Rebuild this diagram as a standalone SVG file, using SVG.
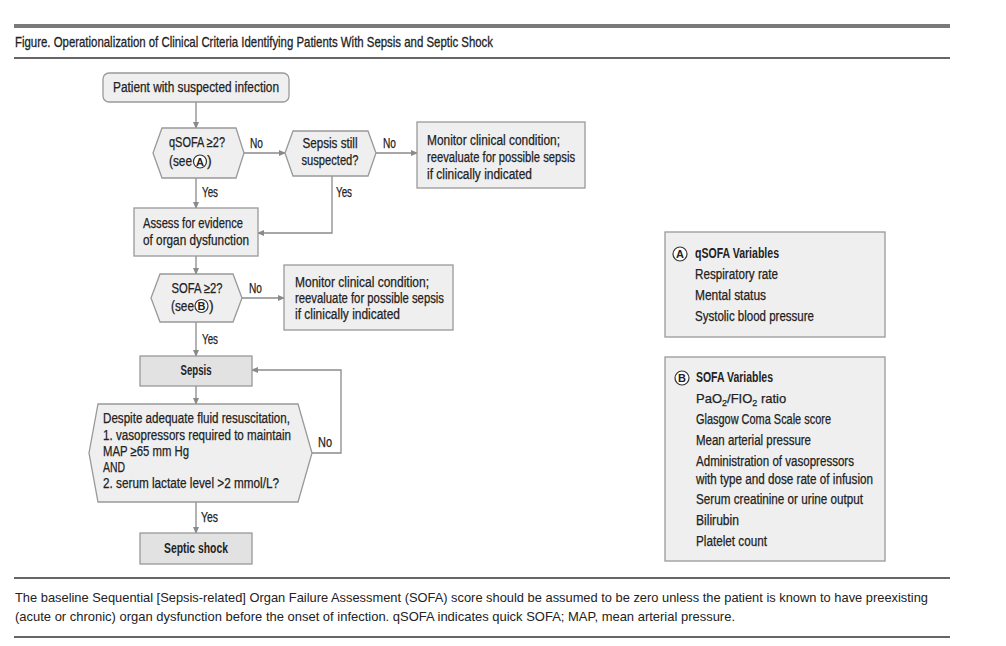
<svg xmlns="http://www.w3.org/2000/svg" width="1006" height="646" viewBox="0 0 1006 646">
<defs>
<marker id="ah" markerWidth="7" markerHeight="6" refX="6" refY="3" orient="auto" markerUnits="userSpaceOnUse">
<path d="M0,0 L7,3 L0,6 Z" fill="#8a8a8a"/>
</marker>
<style>
text{font-family:"Liberation Sans",Arial,sans-serif;fill:#222;}
.t{font-size:14px;stroke:#222;stroke-width:0.25;}
.b{font-size:14px;font-weight:bold;}
.c{text-anchor:middle;}
.box{fill:#efefef;stroke:#999;stroke-width:1.3;}
.dk{fill:#e2e2e2;stroke:#999;stroke-width:1.3;}
.con{fill:none;stroke:#8a8a8a;stroke-width:1.3;marker-end:url(#ah);}
.circ{fill:#fff;stroke:#333;stroke-width:1.2;}
.cl{font-size:11px;font-weight:bold;text-anchor:middle;}
.fn{font-size:13px;}
</style>
</defs>
<rect width="1006" height="646" fill="#fff"/>
<g id="header">
<rect x="14" y="24" width="936" height="4" fill="#7a7a7a"/>
<text x="15" y="47" style="font-size:15px;stroke:#222;stroke-width:0.3" textLength="478" lengthAdjust="spacingAndGlyphs">Figure. Operationalization of Clinical Criteria Identifying Patients With Sepsis and Septic Shock</text>
<line x1="14" y1="58" x2="950" y2="58" stroke="#333" stroke-width="1.5"/>
</g>
<g id="connectors">
<line class="con" x1="196" y1="102" x2="196" y2="128"/>
<line class="con" x1="244" y1="153" x2="285" y2="153"/>
<line class="con" x1="376" y1="153" x2="417" y2="153"/>
<line class="con" x1="196" y1="178" x2="196" y2="208"/>
<polyline class="con" points="332,176 332,233 258,233"/>
<line class="con" x1="196" y1="256" x2="196" y2="274"/>
<line class="con" x1="242" y1="298" x2="284" y2="298"/>
<line class="con" x1="196" y1="322" x2="196" y2="356"/>
<line class="con" x1="196" y1="386" x2="196" y2="404"/>
<polyline class="con" points="312,453 341,453 341,370 252,370"/>
<line class="con" x1="196" y1="502" x2="196" y2="533"/>
<text class="t" x="250" y="148" textLength="13" lengthAdjust="spacingAndGlyphs">No</text>
<text class="t" x="383" y="148" textLength="13" lengthAdjust="spacingAndGlyphs">No</text>
<text class="t" x="202" y="197" textLength="16" lengthAdjust="spacingAndGlyphs">Yes</text>
<text class="t" x="336" y="197" textLength="16" lengthAdjust="spacingAndGlyphs">Yes</text>
<text class="t" x="249" y="293" textLength="13" lengthAdjust="spacingAndGlyphs">No</text>
<text class="t" x="202" y="344" textLength="16" lengthAdjust="spacingAndGlyphs">Yes</text>
<text class="t" x="318" y="447" textLength="14" lengthAdjust="spacingAndGlyphs">No</text>
<text class="t" x="201" y="522" textLength="17" lengthAdjust="spacingAndGlyphs">Yes</text>
</g>
<g id="start">
<rect class="box" x="103" y="73" width="186" height="29" rx="6"/>
<text class="t c" x="196" y="92" textLength="166" lengthAdjust="spacingAndGlyphs">Patient with suspected infection</text>
</g>
<g id="qsofa">
<polygon class="box" points="153,153 162,128 236,128 244,153 236,178 162,178"/>
<text class="t c" x="197" y="147" textLength="56" lengthAdjust="spacingAndGlyphs">qSOFA ≥2?</text>
<text class="t" x="169" y="166" textLength="23" lengthAdjust="spacingAndGlyphs">(see</text>
<circle class="circ" cx="200" cy="161.5" r="6.5"/>
<text class="cl" x="200" y="165.5">A</text>
<text class="t" x="207" y="166">)</text>
</g>
<g id="still">
<polygon class="box" points="285,153 293,131 368,131 376,153 368,176 293,176"/>
<text class="t c" x="330" y="148" textLength="55" lengthAdjust="spacingAndGlyphs">Sepsis still</text>
<text class="t c" x="330" y="165" textLength="57" lengthAdjust="spacingAndGlyphs">suspected?</text>
</g>
<g id="monitor1">
<rect class="box" x="417" y="122" width="168" height="66"/>
<text class="t" x="427" y="145" textLength="133" lengthAdjust="spacingAndGlyphs">Monitor clinical condition;</text>
<text class="t" x="427" y="162" textLength="148" lengthAdjust="spacingAndGlyphs">reevaluate for possible sepsis</text>
<text class="t" x="427" y="179" textLength="105" lengthAdjust="spacingAndGlyphs">if clinically indicated</text>
</g>
<g id="assess">
<rect class="box" x="134" y="208" width="124" height="48"/>
<text class="t" x="143" y="228" textLength="100" lengthAdjust="spacingAndGlyphs">Assess for evidence</text>
<text class="t" x="143" y="245" textLength="106" lengthAdjust="spacingAndGlyphs">of organ dysfunction</text>
</g>
<g id="sofa">
<polygon class="box" points="151,298 160,274 233,274 242,298 233,322 160,322"/>
<text class="t c" x="197" y="293" textLength="51" lengthAdjust="spacingAndGlyphs">SOFA ≥2?</text>
<text class="t" x="171" y="311" textLength="23" lengthAdjust="spacingAndGlyphs">(see</text>
<circle class="circ" cx="201.5" cy="306" r="6.5"/>
<text class="cl" x="201.5" y="310">B</text>
<text class="t" x="209" y="311">)</text>
</g>
<g id="monitor2">
<rect class="box" x="284" y="265" width="169" height="65"/>
<text class="t" x="295" y="287" textLength="134" lengthAdjust="spacingAndGlyphs">Monitor clinical condition;</text>
<text class="t" x="295" y="303" textLength="149" lengthAdjust="spacingAndGlyphs">reevaluate for possible sepsis</text>
<text class="t" x="295" y="319" textLength="105" lengthAdjust="spacingAndGlyphs">if clinically indicated</text>
</g>
<g id="sepsis">
<rect class="dk" x="140" y="356" width="112" height="30"/>
<text class="b c" x="196" y="375" textLength="31" lengthAdjust="spacingAndGlyphs">Sepsis</text>
</g>
<g id="shock-criteria">
<polygon class="box" points="89,453 98,404 298,404 312,453 298,502 98,502"/>
<text class="t" x="103" y="423" textLength="187" lengthAdjust="spacingAndGlyphs">Despite adequate fluid resuscitation,</text>
<text class="t" x="103" y="440" textLength="188" lengthAdjust="spacingAndGlyphs">1. vasopressors required to maintain</text>
<text class="t" x="103" y="456" textLength="86" lengthAdjust="spacingAndGlyphs">MAP ≥65 mm Hg</text>
<text class="t" x="103" y="472" textLength="22" lengthAdjust="spacingAndGlyphs">AND</text>
<text class="t" x="103" y="488" textLength="176" lengthAdjust="spacingAndGlyphs">2. serum lactate level &gt;2 mmol/L?</text>
</g>
<g id="septic-shock">
<rect class="dk" x="140" y="533" width="112" height="31"/>
<text class="b c" x="196" y="553" textLength="64" lengthAdjust="spacingAndGlyphs">Septic shock</text>
</g>
<g id="qsofa-vars">
<rect class="box" x="665" y="232" width="220" height="105"/>
<circle class="circ" cx="680" cy="254" r="7"/>
<text class="cl" x="680" y="258">A</text>
<text class="b" x="695" y="258" textLength="84" lengthAdjust="spacingAndGlyphs">qSOFA Variables</text>
<text class="t" x="695" y="279" textLength="83" lengthAdjust="spacingAndGlyphs">Respiratory rate</text>
<text class="t" x="695" y="300" textLength="71" lengthAdjust="spacingAndGlyphs">Mental status</text>
<text class="t" x="695" y="321" textLength="119" lengthAdjust="spacingAndGlyphs">Systolic blood pressure</text>
</g>
<g id="sofa-vars">
<rect class="box" x="665" y="357" width="220" height="204"/>
<circle class="circ" cx="682" cy="378" r="7"/>
<text class="cl" x="682" y="382">B</text>
<text class="b" x="696" y="382" textLength="77" lengthAdjust="spacingAndGlyphs">SOFA Variables</text>
<text class="t" x="696" y="403" style="font-size:13px">PaO<tspan dy="3" font-size="9">2</tspan><tspan dy="-3">/FIO</tspan><tspan dy="3" font-size="9">2</tspan><tspan dy="-3"> ratio</tspan></text>
<text class="t" x="696" y="424" textLength="135" lengthAdjust="spacingAndGlyphs">Glasgow Coma Scale score</text>
<text class="t" x="696" y="445" textLength="115" lengthAdjust="spacingAndGlyphs">Mean arterial pressure</text>
<text class="t" x="696" y="466" textLength="158" lengthAdjust="spacingAndGlyphs">Administration of vasopressors</text>
<text class="t" x="696" y="484" textLength="177" lengthAdjust="spacingAndGlyphs">with type and dose rate of infusion</text>
<text class="t" x="696" y="504" textLength="167" lengthAdjust="spacingAndGlyphs">Serum creatinine or urine output</text>
<text class="t" x="696" y="525" textLength="43" lengthAdjust="spacingAndGlyphs">Bilirubin</text>
<text class="t" x="696" y="546" textLength="71" lengthAdjust="spacingAndGlyphs">Platelet count</text>
</g>
<g id="footnote">
<line x1="14" y1="578" x2="950" y2="578" stroke="#333" stroke-width="1.5"/>
<text class="fn" x="15" y="602" textLength="913" lengthAdjust="spacingAndGlyphs">The baseline Sequential [Sepsis-related] Organ Failure Assessment (SOFA) score should be assumed to be zero unless the patient is known to have preexisting</text>
<text class="fn" x="15" y="621" textLength="720" lengthAdjust="spacingAndGlyphs">(acute or chronic) organ dysfunction before the onset of infection. qSOFA indicates quick SOFA; MAP, mean arterial pressure.</text>
<line x1="14" y1="637" x2="950" y2="637" stroke="#333" stroke-width="1.5"/>
</g>
</svg>
